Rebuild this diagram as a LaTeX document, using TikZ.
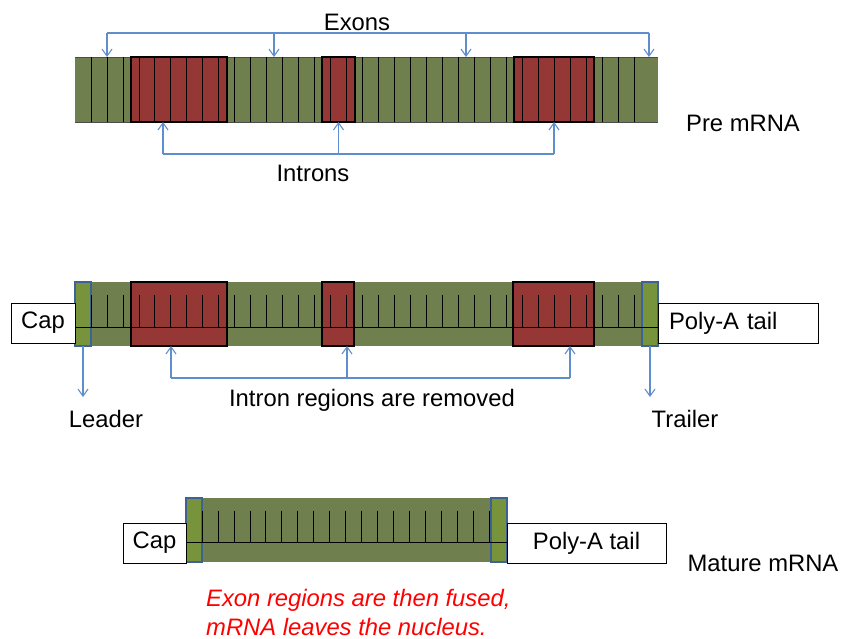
\documentclass[tikz,border=0pt]{standalone}
\usepackage{fontspec}
\setmainfont{Liberation Sans}
\usepackage{xcolor}
\usepackage{tikz}
\usetikzlibrary{arrows.meta}

\definecolor{stripgreen}{RGB}{111,127,78}
\definecolor{endgreen}{RGB}{119,147,60}
\definecolor{intronred}{RGB}{149,55,53}
\definecolor{linkblue}{RGB}{96,142,205}
\definecolor{edgeblue}{RGB}{62,98,148}

\tikzset{
  intron/.style={fill=intronred, draw=black, line width=1.8pt, inner sep=0pt, outer sep=0pt, anchor=north west},
  endbox/.style={fill=endgreen, draw=edgeblue, line width=1.6pt, inner sep=0pt, outer sep=0pt, anchor=north west, minimum width=16pt, minimum height=64pt},
  tagbox/.style={draw=black, fill=white, line width=0.8pt, inner sep=0pt, outer sep=0pt, anchor=north west, minimum height=40pt},
  link/.style={draw=linkblue, line width=1.1pt},
  linkarrow/.style={link, -{Straight Barb[length=7pt, width=10pt, line width=1.1pt]}},
  lbl/.style={inner sep=0pt},
  tick/.style={line width=0.8pt}
}

\begin{document}
\begin{tikzpicture}[x=1pt, y=-1pt, font=\fontsize{23.8}{28}\selectfont]
\useasboundingbox (0,0) rectangle (843,639);

% pre mRNA
\fill[stripgreen] (75,57) rectangle (658,122);
\draw[black!70, line width=0.8pt] (75,57) -- (658,57) (75,122) -- (658,122);
\node[intron, minimum width=96pt, minimum height=65pt] (i1) at (131,57) {};
\node[intron, minimum width=33pt, minimum height=65pt] (i2) at (322,57) {};
\node[intron, minimum width=80pt, minimum height=65pt] (i3) at (514,57) {};
\foreach \k in {0,...,34}
  \draw[tick] (91+15.97*\k,57) -- ++(0,65);

\coordinate (e1) at (107,57);
\coordinate (e2) at (274,57);
\coordinate (e3) at (466,57);
\coordinate (e4) at (649,57);
\coordinate (exbar) at (0,33);
\draw[link] (e1 |- exbar) -- (e4 |- exbar);
\foreach \c in {e1,e2,e3,e4}
  \draw[linkarrow] (\c |- exbar) -- (\c);
\node[lbl] (exons) at (357,22) {Exons};

\coordinate (n1) at (163,122);
\coordinate (n2) at (i2.south);
\coordinate (n3) at (i3.south);
\coordinate (inbar) at (0,154);
\draw[link] (n1 |- inbar) -- (n3 |- inbar);
\foreach \c in {n1,n2,n3}
  \draw[linkarrow] (\c |- inbar) -- (\c);
\node[lbl] (introns) at (313,173) {Introns};

\node[lbl] (pre) at (743,123) {Pre mRNA};

% capped and tailed
\fill[stripgreen] (75,282) rectangle (658,346);
\node[intron, minimum width=96pt, minimum height=64pt] (m1) at (131,282) {};
\node[intron, minimum width=32pt, minimum height=64pt] (m2) at (322,282) {};
\node[intron, minimum width=81pt, minimum height=64pt] (m3) at (513,282) {};
\node[endbox] (lead) at (75,282) {};
\node[endbox] (trail) at (642,282) {};
\foreach \k in {0,...,34}
  \draw[tick] (91+15.97*\k,295) -- ++(0,32);
\draw[tick] (75,327) -- (658,327);
\node[tagbox, minimum width=64pt] (cap1) at (11,303) {Cap};
\node[tagbox, text width=138pt, inner xsep=11pt, align=left] (tail1) at (658,303) {Poly-A tail};

\coordinate (lead-end) at (lead.south |- 0,397);
\coordinate (trail-end) at (trail.south |- 0,397);
\draw[linkarrow] (lead.south) -- (lead-end);
\draw[linkarrow] (trail.south) -- (trail-end);
\node[lbl] (leader) at (106,419) {Leader};
\node[lbl] (trailer) at (685,419) {Trailer};

\coordinate (r1) at (171,346);
\coordinate (r2) at (347,346);
\coordinate (r3) at (570,346);
\coordinate (rmbar) at (0,378);
\draw[link] (r1 |- rmbar) -- (r3 |- rmbar);
\foreach \c in {r1,r2,r3}
  \draw[linkarrow] (\c |- rmbar) -- (\c);
\node[lbl] (removed) at (372,400) {Intron regions are removed};

% mature mRNA
\fill[stripgreen] (186,498) rectangle (507,562);
\node[endbox] (lead2) at (186,498) {};
\node[endbox] (trail2) at (491,498) {};
\foreach \k in {0,...,18}
  \draw[tick] (202+15.97*\k,511) -- ++(0,31);
\draw[tick] (186,542) -- (507,542);
\node[tagbox, minimum width=63pt] (cap2) at (123,523) {Cap};
\node[tagbox, minimum width=159pt] (tail2) at (507,523) {Poly-A tail};
\node[lbl] (mature) at (763,563) {Mature mRNA};

\node[lbl, anchor=west, align=left, text=red, font=\fontsize{23.8}{29}\selectfont\itshape] (fused) at (206,612)
  {Exon regions are then fused,\\mRNA leaves the nucleus.};
\end{tikzpicture}
\end{document}
